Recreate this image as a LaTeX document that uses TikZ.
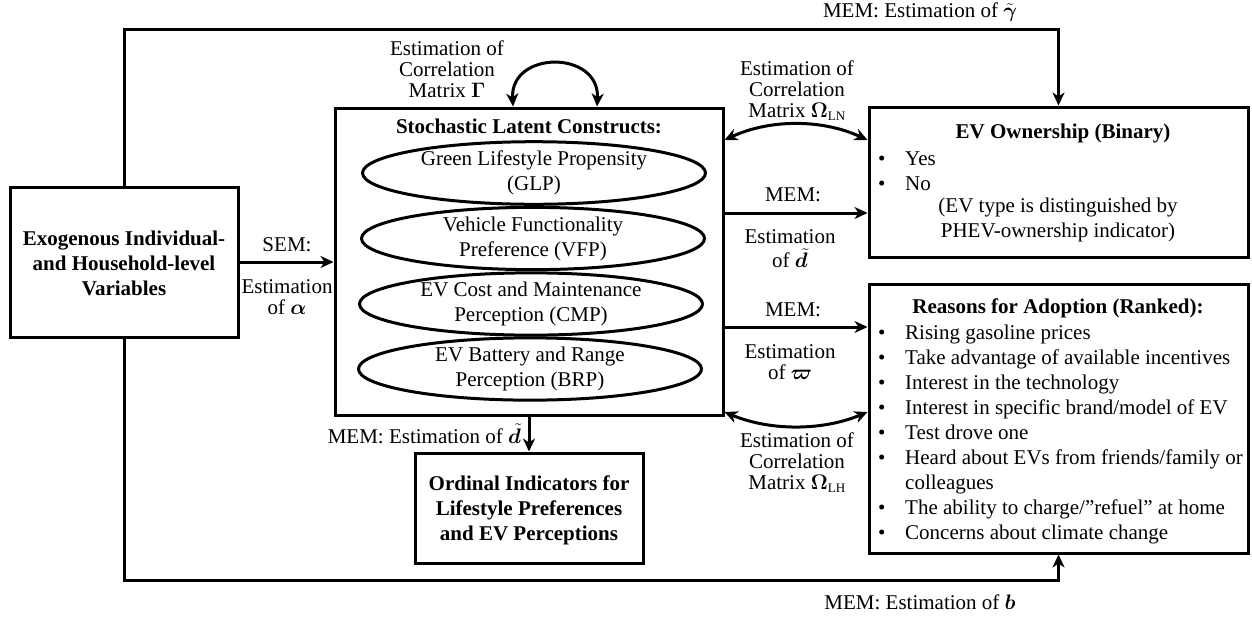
\documentclass[tikz,border=0pt]{standalone}
\usepackage{fix-cm}
\usepackage{amsmath,bm}
\usepackage[no-math]{fontspec}
\setmainfont{Liberation Serif}
\usetikzlibrary{arrows.meta,shapes.geometric}
\begin{document}
\begin{tikzpicture}[x=1pt,y=-1pt,
  box/.style={draw, line width=3pt, inner sep=0pt},
  ell/.style={draw, ellipse, line width=3pt, minimum width=343pt, minimum height=57pt, inner sep=0pt, align=center, font=\fontsize{21}{25}\selectfont},
  conn/.style={line width=3pt, -{Stealth[length=13pt,width=12pt,inset=4pt]}},
  biconn/.style={line width=3pt, {Stealth[length=13pt,width=12pt,inset=4pt]}-{Stealth[length=13pt,width=12pt,inset=4pt]}},
  lbl/.style={align=center, inner sep=0pt, font=\fontsize{21}{21}\selectfont},
  bold/.style={align=center, inner sep=0pt, font=\fontsize{21}{25}\selectfont\bfseries},
  item/.style={anchor=base west, inner sep=0pt, font=\fontsize{21}{25}\selectfont},
  bul/.style={anchor=base west, inner sep=0pt, font=\fontsize{21}{25}\selectfont},
]
\useasboundingbox (0,0) rectangle (1252,619);
% boxes
\node[box, minimum width=228pt, minimum height=150pt] (exog) at (124,262) {};
\node[box, minimum width=388pt, minimum height=307pt] (stoch) at (529,261.5) {};
\node[box, minimum width=379pt, minimum height=150pt] (ev) at (1058.5,182) {};
\node[box, minimum width=379pt, minimum height=269pt] (reas) at (1058.5,418.5) {};
\node[box, minimum width=228pt, minimum height=110pt] (ord) at (529,508) {};
% box texts
\node[bold] (exogt) at (124,263) {Exogenous Individual-\\and Household-level\\Variables};
\node[bold] (stocht) at (529,126) {Stochastic Latent Constructs:};
\node[bold] (ordt) at (529,510) {Ordinal Indicators for\\Lifestyle Preferences\\and EV Perceptions};
\node[bold] (evt) at (1063,133) {EV Ownership (Binary)};
\node[bold] (reast) at (1058,308) {Reasons for Adoption (Ranked):};
% ellipses
\node[ell] (glp) at (534,173) {Green Lifestyle Propensity\\(GLP)};
\node[ell] (vfp) at (533,238.5) {Vehicle Functionality\\Preference (VFP)};
\node[ell] (cmp) at (531,304) {EV Cost and Maintenance\\Perception (CMP)};
\node[ell] (brp) at (530,369) {EV Battery and Range\\Perception (BRP)};
% EV ownership list
\node[bul] (evb1) at (878,165) {\textbullet};
\node[item] (evi1) at (905,165) {Yes};
\node[bul] (evb2) at (878,190) {\textbullet};
\node[item] (evi2) at (905,190) {No};
\node[lbl, font=\fontsize{21}{25}\selectfont] (evnote) at (1058,220) {(EV type is distinguished by\\PHEV-ownership indicator)};
% Reasons list
\foreach \y/\t [count=\i] in {339/{Rising gasoline prices},364/{Take advantage of available incentives},389/{Interest in the technology},414/{Interest in specific brand/model of EV},439/{Test drove one},464/{Heard about EVs from friends/family or},514/{The ability to charge/\char"201D refuel\char"201D{} at home},539/{Concerns about climate change}}{
  \node[bul] (rb\i) at (878,\y) {\textbullet};
  \node[item] (ri\i) at (905,\y) {\t};
}
\node[item] (ricol) at (905,489) {colleagues};
% coordinates
\coordinate (topc) at (124,29);
\coordinate (botc) at (124,580);
\coordinate (ymem1) at (0,213);
\coordinate (ymem2) at (0,327);
\coordinate (yLN) at (0,140);
\coordinate (yLH) at (0,412);
\coordinate (g1) at (513,0);
\coordinate (g2) at (597,0);
% connectors
\draw[conn] (exog.east) -- (exog.east -| stoch.west);
\draw[conn] (exog.north) -- (topc) -| (ev.north);
\draw[conn] (exog.south) -- (botc) -| (reas.south);
\draw[conn] (stoch.east |- ymem1) -- (ev.west |- ymem1);
\draw[conn] (stoch.east |- ymem2) -- (reas.west |- ymem2);
\draw[conn] (stoch.south) -- (ord.north);
\draw[biconn] (g1 |- stoch.north) .. controls (510,50) and (600,50) .. (g2 |- stoch.north);
\draw[biconn] (stoch.east |- yLN) .. controls (770,119) and (822,119) .. (ev.west |- yLN);
\draw[biconn] (stoch.east |- yLH) .. controls (770,431) and (822,431) .. (reas.west |- yLH);
% labels
\node[lbl] (lgam) at (920,12) {MEM: Estimation of $\tilde{\bm{\gamma}}$};
\node[lbl] (lb) at (920,602) {MEM: Estimation of $\bm{b}$};
\node[lbl] (lG) at (447,69) {Estimation of\\Correlation\\Matrix $\mathbf{\Gamma}$};
\node[lbl] (lLN) at (797,91) {Estimation of\\Correlation\\Matrix $\mathbf{\Omega}_{\textrm{\fontsize{13}{13}\selectfont LN}}$};
\node[lbl] (lLH) at (797,463) {Estimation of\\Correlation\\Matrix $\mathbf{\Omega}_{\textrm{\fontsize{13}{13}\selectfont LH}}$};
\node[lbl] (lsem) at (287,245) {SEM:};
\node[lbl] (lsem2) at (287,297) {Estimation\\of $\bm{\alpha}$};
\node[lbl] (lm1) at (793,195) {MEM:};
\node[lbl] (lm1b) at (790,249) {Estimation\\[3pt]of $\tilde{\bm{d}}$};
\node[lbl] (lm2) at (793,310) {MEM:};
\node[lbl] (lm2b) at (790,362) {Estimation\\of $\bm{\varpi}$};
\node[lbl, anchor=east] (lord) at (521,434) {MEM: Estimation of $\tilde{\bm{d}}$};
\end{tikzpicture}
\end{document}
